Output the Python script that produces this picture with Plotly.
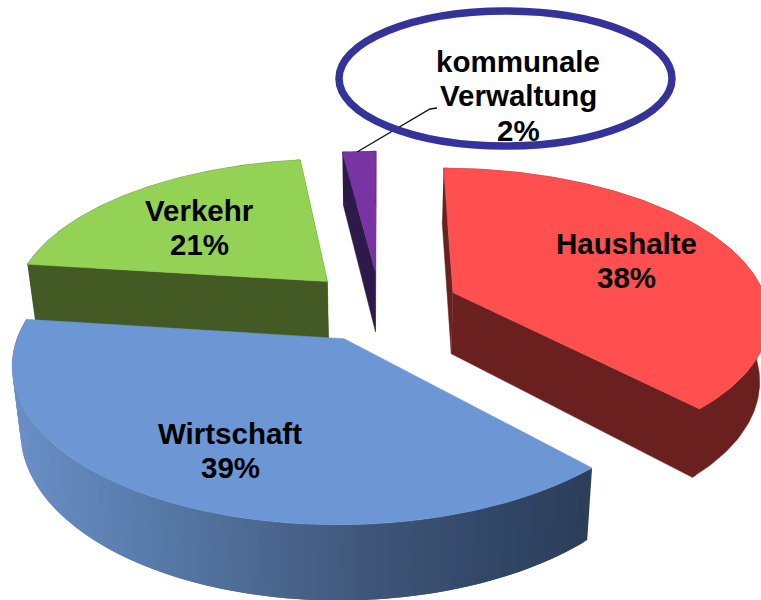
import numpy as np
import plotly.graph_objects as go

# ---------- data ----------
categories = ["Haushalte", "Wirtschaft", "Verkehr", "kommunale Verwaltung"]
label_lines = [["Haushalte"], ["Wirtschaft"], ["Verkehr"], ["kommunale", "Verwaltung"]]
values = [38, 39, 21, 2]

# ---------- styles ----------
top_colors = ["#FF4F4F", "#6C96D4", "#94D255", "#7A33A3"]
side_colors = ["#6B2020", None, "#445A25", "#2E1A4A"]
blue_stops_x = [15, 130, 380, 480, 590]
blue_stops_rgb = [(106, 143, 198), (90, 126, 174), (63, 85, 119), (52, 73, 106), (44, 62, 90)]
draw_order = [2, 3, 0, 1]
label_x = [626, 230, 199, 518]
label_top_y = [243, 433, 210, 61]
LINE_STEP = 34.5

# ---------- projection ----------
CX, CY, RX, RY, PERSP = 380, 306, 318, 148, 0.15
DEPTH, SHRINK = 62, 0.977
explode = [0.25, 0.24, 0.24, 0.24]
radius = [0.99, 0.996, 0.996, 1.0]


def project(X, Y):
    w = 1 + PERSP * Y
    return CX + RX * X / w, CY - RY * Y / w, w


fig = go.Figure()


def poly(xs, ys, color, name, lw=0.0):
    fig.add_trace(go.Scatter(x=list(xs), y=list(ys), mode="lines", fill="toself",
                             fillcolor=color, line=dict(color=color, width=lw),
                             hoverinfo="skip", showlegend=False, name=name))


def blue_at(x):
    rgb = [np.interp(x, blue_stops_x, [c[i] for c in blue_stops_rgb]) for i in range(3)]
    return "rgb(%d,%d,%d)" % tuple(rgb)


total = sum(values)
starts = np.cumsum([0] + values[:-1]) / total * 2 * np.pi
spans = np.array(values) / total * 2 * np.pi

for i in draw_order:
    a0, da = starts[i], spans[i]
    mid = a0 + da / 2
    ox, oy = explode[i] * np.sin(mid), explode[i] * np.cos(mid)
    n = max(8, int(values[i] * 4))
    th = np.linspace(a0, a0 + da, n)
    X = np.r_[ox, ox + radius[i] * np.sin(th), ox]
    Y = np.r_[oy, oy + radius[i] * np.cos(th), oy]
    sx, sy, w = project(X, Y)
    bx = CX + (sx - CX) * SHRINK
    by = sy + DEPTH / w
    name = categories[i]
    m = len(sx)
    if side_colors[i]:
        c = side_colors[i]
        # curved outer wall, then two cut walls that overlap it so no seam shows
        poly(np.r_[sx[1:m - 1], bx[1:m - 1][::-1]], np.r_[sy[1:m - 1], by[1:m - 1][::-1]], c, name + " wall", 0.5)
        poly(np.r_[sx[0:3], bx[0:3][::-1]], np.r_[sy[0:3], by[0:3][::-1]], c, name + " wall", 0.5)
        poly(np.r_[sx[m - 3:m], bx[m - 3:m][::-1]], np.r_[sy[m - 3:m], by[m - 3:m][::-1]], c, name + " wall", 0.5)
    else:
        # graded wall: each strip overlaps the next so that no seams show
        for k in range(1, m - 2):
            e = min(k + 2, m - 2)
            col = blue_at((sx[k] + sx[k + 1]) / 2)
            poly(np.r_[sx[k:e + 1], bx[k:e + 1][::-1]], np.r_[sy[k:e + 1], by[k:e + 1][::-1]], col, name + " wall")
    poly(sx, sy, top_colors[i], name, 0.5)

# leader line of the small slice (below the ellipse stroke)
fig.add_shape(type="path", path="M 357 152 L 430 109 L 437 108", line=dict(color="#111111", width=1.3),
              layer="above", xref="x", yref="y")
# callout ellipse
fig.add_shape(type="circle", x0=339, x1=672, y0=11, y1=146, line=dict(color="#333399", width=7.5),
              fillcolor="rgba(0,0,0,0)", layer="above", xref="x", yref="y")

for i in range(len(values)):
    lines = label_lines[i] + [f"{values[i]}%"]
    for j, t in enumerate(lines):
        fig.add_annotation(x=label_x[i], y=label_top_y[i] + j * LINE_STEP, xref="x", yref="y",
                           showarrow=False, text=f"<b>{t}</b>",
                           font=dict(family="Liberation Sans", size=29.5, color="black"),
                           xanchor="center", yanchor="middle")

fig.update_xaxes(range=[0, 761], visible=False, fixedrange=True)
fig.update_yaxes(range=[600, 0], visible=False, fixedrange=True)
fig.update_layout(width=761, height=600, margin=dict(l=0, r=0, t=0, b=0),
                  paper_bgcolor="white", plot_bgcolor="white", showlegend=False)
fig.write_html("out.html", config={"displayModeBar": False},
               post_script="document.body.style.margin='0';document.body.style.overflow='hidden';")
